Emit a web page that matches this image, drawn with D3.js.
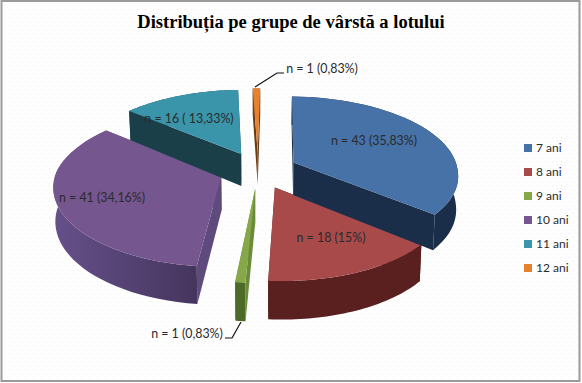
<!DOCTYPE html>
<html lang="en">
<head>
<meta charset="UTF-8">
<title>Distributia pe grupe de varsta</title>
<style>
  html, body { margin: 0; padding: 0; background: #fff; }
  svg { display: block; }
  text { font-family: Lato, "Open Sans", sans-serif; fill: #2b2b2b; }
</style>
</head>
<body>
<svg id="chart" width="582" height="383"></svg>
<script src="https://cdnjs.cloudflare.com/ajax/libs/d3/7.8.5/d3.min.js"></script>
<script>
  const titleText = "Distribuția pe grupe de vârstă a lotului";
  const categories = ["7 ani", "8 ani", "9 ani", "10 ani", "11 ani", "12 ani"];
  const counts = [43, 18, 1, 41, 16, 1];
  const valueLabels = ["n = 43 (35,83%)", "n = 18 (15%)", "n = 1 (0,83%)", "n = 41 (34,16%)", "n = 16 ( 13,33%)", "n = 1 (0,83%)"];

  const topColors = ["#4672a8", "#a84a4a", "#87a84a", "#75568f", "#3a95ab", "#e5812f"];
  const wallColors = ["#1a2e4a", "#5a2020", "#4d6a26", "url(#purpleWall)", "#1b3f49", "#7a4514"];
  const sideColors = ["#1a2e4a", "#5a2020", "#6a8c3a", "#5f4a7d", "#1b3f49", "#6b3a10"];

  const width = 582, height = 383;
  const svg = d3.select("#chart");

  // dotted paper look of the chart area
  const defs = svg.append("defs");
  const dots = defs.append("pattern").attr("id", "paper")
    .attr("width", 8).attr("height", 8).attr("patternUnits", "userSpaceOnUse");
  dots.append("rect").attr("width", 8).attr("height", 8).attr("fill", "#fefefe");
  dots.append("rect").attr("x", 1).attr("y", 1).attr("width", 1).attr("height", 1).attr("fill", "#e9ece9");
  dots.append("rect").attr("x", 5).attr("y", 5).attr("width", 1).attr("height", 1).attr("fill", "#e9ece9");

  const purpleWall = defs.append("linearGradient").attr("id", "purpleWall");
  purpleWall.append("stop").attr("offset", "0%").attr("stop-color", "#66508a");
  purpleWall.append("stop").attr("offset", "100%").attr("stop-color", "#44355d");

  svg.append("rect").attr("x", 1.5).attr("y", 1).attr("width", 578).attr("height", 380)
    .attr("fill", "url(#paper)").attr("stroke", "#9a9a9a").attr("stroke-width", 2);

  svg.append("text").attr("x", 291).attr("y", 28).attr("text-anchor", "middle")
    .style("font-family", "'Liberation Serif', serif").style("font-weight", "bold")
    .style("font-size", "18.5px").style("fill", "#000").text(titleText);

  // perspective projection of the pie disc
  const cx = 258, cy = 170, rx = 164.5, ry = 76.4, persp = 0.131, explode = 0.24;
  const rotation = 1 * Math.PI / 180;

  function project(u, v, lower) {
    const s = 1 / (1 + persp * v);
    const drop = lower ? 33 - 4.5 * v : 0;
    const shrink = lower ? 0.99 : 1;
    // front of the disc leans a little to the right in the picture
    const lean = 4.5 * Math.max(0, -v);
    return [cx + lean + u * rx * s * shrink, cy - v * ry * s + drop];
  }

  const pie = d3.pie().sort(null)
    .startAngle(rotation).endAngle(rotation + 2 * Math.PI);
  const slices = pie(counts);
  const line = d3.line();

  function rimPoints(d, lower) {
    const mid = (d.startAngle + d.endAngle) / 2;
    const ou = explode * Math.sin(mid), ov = explode * Math.cos(mid);
    return d3.range(0, 41).map(i => {
      const a = d.startAngle + (d.endAngle - d.startAngle) * i / 40;
      return project(ou + Math.sin(a), ov + Math.cos(a), lower);
    });
  }
  function apex(d, lower) {
    const mid = (d.startAngle + d.endAngle) / 2;
    return project(explode * Math.sin(mid), explode * Math.cos(mid), lower);
  }

  // paint order: back walls get covered by later slices
  const paintOrder = [3, 4, 1, 0, 5, 2];
  const pieG = svg.append("g");
  paintOrder.forEach(i => {
    const d = slices[i];
    const rimTop = rimPoints(d, false), rimLow = rimPoints(d, true);
    const aTop = apex(d, false), aLow = apex(d, true);
    const g = pieG.append("g");
    g.append("path").attr("fill", sideColors[i])
      .attr("d", line([aTop, rimTop[0], rimLow[0], aLow]) + "Z");
    g.append("path").attr("fill", sideColors[i])
      .attr("d", line([aTop, rimTop[40], rimLow[40], aLow]) + "Z");
    g.append("path").attr("fill", wallColors[i])
      .attr("d", line(rimTop.concat(rimLow.slice().reverse())) + "Z");
    g.append("path").attr("fill", topColors[i])
      .attr("d", line([aTop].concat(rimTop)) + "Z");
  });

  // value labels, leaders and legend
  const labelPos = [[374, 141], [331, 238], [187, 334], [102, 198], [189, 119], [322, 69]];
  svg.append("g").selectAll("text").data(valueLabels).enter().append("text")
    .attr("x", (d, i) => labelPos[i][0])
    .attr("y", (d, i) => labelPos[i][1])
    .attr("dy", "0.35em").attr("text-anchor", "middle")
    .style("font-size", "12.4px").text(d => d);

  const leaders = [[[255, 87], [277, 73], [284, 73]], [[241, 322], [232, 338], [225, 338]]];
  svg.append("g").selectAll("path").data(leaders).enter().append("path")
    .attr("d", d => line(d)).attr("fill", "none").attr("stroke", "#111").attr("stroke-width", 1.2);

  const legendY = d3.scalePoint().domain(categories).range([148, 268]);
  const legend = svg.append("g").selectAll("g").data(categories).enter().append("g")
    .attr("transform", d => "translate(524," + legendY(d) + ")");
  legend.append("rect").attr("y", -4).attr("width", 8).attr("height", 8)
    .attr("fill", (d, i) => topColors[i]);
  legend.append("text").attr("x", 12).attr("dy", "0.35em")
    .style("font-size", "12px").text(d => d);
</script>
</body>
</html>
